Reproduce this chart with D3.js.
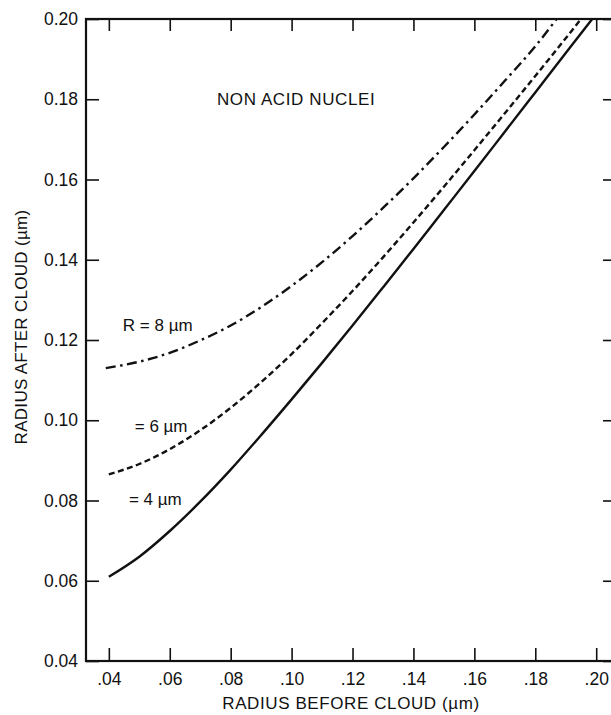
<!DOCTYPE html>
<html>
<head>
<meta charset="utf-8">
<script src="https://cdn.jsdelivr.net/npm/d3@7"></script>
<style>
  html, body { margin: 0; padding: 0; background: #fff; }
  svg { display: block; }
  text { font-family: "Liberation Sans", Arial, Helvetica, sans-serif; fill: #111; }
</style>
</head>
<body>
<svg id="chart" width="611" height="715"></svg>
<script>
// Radius before cloud processing (µm)
const radiusBefore4 = [0.04, 0.05, 0.06, 0.07, 0.08, 0.09, 0.10, 0.11, 0.12, 0.13, 0.14, 0.15, 0.16, 0.17, 0.18, 0.19, 0.1987];
const radiusBefore6 = [0.04, 0.05, 0.06, 0.07, 0.08, 0.09, 0.10, 0.11, 0.12, 0.13, 0.14, 0.15, 0.16, 0.17, 0.18, 0.19, 0.195];
const radiusBefore8 = [0.039, 0.05, 0.06, 0.07, 0.08, 0.09, 0.10, 0.11, 0.12, 0.13, 0.14, 0.15, 0.16, 0.17, 0.18, 0.187];

// Radius after cloud processing (µm) for droplet radius R
const radiusAfter4 = [0.061, 0.0660, 0.0724, 0.0797, 0.0877, 0.0963, 0.1052, 0.1143, 0.1236, 0.1331, 0.1427, 0.1524, 0.1621, 0.1719, 0.1817, 0.1915, 0.20];
const radiusAfter6 = [0.0865, 0.0891, 0.0928, 0.0975, 0.1031, 0.1095, 0.1165, 0.1242, 0.1322, 0.1406, 0.1493, 0.1582, 0.1673, 0.1765, 0.1858, 0.1952, 0.20];
const radiusAfter8 = [0.113, 0.1146, 0.1168, 0.1199, 0.1236, 0.1282, 0.1335, 0.1394, 0.1459, 0.1529, 0.1603, 0.1681, 0.1762, 0.1846, 0.1932, 0.20];

// Tick values
const xTicks = [0.04, 0.06, 0.08, 0.10, 0.12, 0.14, 0.16, 0.18, 0.20];
const yTicks = [0.04, 0.06, 0.08, 0.10, 0.12, 0.14, 0.16, 0.18, 0.20];

// Series labels
const seriesLabels = ["= 4 \u00b5m", "= 6 \u00b5m", "R = 8 \u00b5m"];

const svg = d3.select("#chart");

const x = d3.scaleLinear().domain([0.0325, 0.2065]).range([86, 616]);
const y = d3.scaleLinear().domain([0.04, 0.20]).range([661, 19]);

const fmtY = d3.format(".2f");
const fmtX = d => d3.format(".2f")(d).replace(/^0/, "");

// Clip for curves
svg.append("defs").append("clipPath").attr("id", "plotClip")
  .append("rect")
  .attr("x", x.range()[0]).attr("y", y.range()[1])
  .attr("width", x.range()[1] - x.range()[0])
  .attr("height", y.range()[0] - y.range()[1]);

// Axes with inward ticks
const axisL = svg.append("g").attr("transform", `translate(${x.range()[0]},0)`)
  .call(d3.axisLeft(y).tickValues(yTicks).tickFormat(fmtY).tickSizeInner(-13).tickSizeOuter(0).tickPadding(8));
const axisB = svg.append("g").attr("transform", `translate(0,${y.range()[0]})`)
  .call(d3.axisBottom(x).tickValues(xTicks).tickFormat(fmtX).tickSizeInner(-13).tickSizeOuter(0).tickPadding(12));
const axisT = svg.append("g").attr("transform", `translate(0,${y.range()[1]})`)
  .call(d3.axisTop(x).tickValues(xTicks).tickFormat("").tickSizeInner(-12).tickSizeOuter(0));
const axisR = svg.append("g").attr("transform", `translate(${x.range()[1]},0)`)
  .call(d3.axisRight(y).tickValues(yTicks).tickFormat("").tickSizeInner(-13).tickSizeOuter(0));

[axisL, axisB, axisT, axisR].forEach(g => {
  g.select(".domain").remove();
  g.selectAll(".tick line").attr("stroke", "#111").attr("stroke-width", 1.6);
  g.selectAll(".tick text").style("font-size", "17.5px").attr("fill", "#111");
});

// Frame
svg.append("rect")
  .attr("x", x.range()[0]).attr("y", y.range()[1])
  .attr("width", x.range()[1] - x.range()[0])
  .attr("height", y.range()[0] - y.range()[1])
  .attr("fill", "none").attr("stroke", "#111").attr("stroke-width", 2.2);

// Curves
const line = d3.line().x(d => x(d[0])).y(d => y(d[1])).curve(d3.curveMonotoneX);
const series = [
  { xs: radiusBefore4, ys: radiusAfter4, dash: null },
  { xs: radiusBefore6, ys: radiusAfter6, dash: "6,3.5" },
  { xs: radiusBefore8, ys: radiusAfter8, dash: "10,4.5,2.5,4.5" }
];
const curves = svg.append("g").attr("clip-path", "url(#plotClip)");
series.forEach(s => {
  curves.append("path")
    .datum(s.xs.map((v, i) => [v, s.ys[i]]))
    .attr("d", line)
    .attr("fill", "none")
    .attr("stroke", "#111")
    .attr("stroke-width", 2.4)
    .attr("stroke-dasharray", s.dash);
});

// Curve labels
const labelPos = [[0.0466, 0.0789], [0.0485, 0.0971], [0.0446, 0.1222]];
seriesLabels.forEach((t, i) => {
  svg.append("text")
    .attr("x", x(labelPos[i][0])).attr("y", y(labelPos[i][1]))
    .style("font-size", "17px")
    .text(t);
});

// Annotation
svg.append("text")
  .attr("x", x(0.0755)).attr("y", y(0.1786))
  .style("font-size", "17px").style("letter-spacing", "0.6px")
  .text("NON ACID NUCLEI");

// Axis titles
svg.append("text")
  .attr("x", 351).attr("y", 709)
  .attr("text-anchor", "middle")
  .style("font-size", "17px").style("letter-spacing", "0.6px")
  .text("RADIUS BEFORE CLOUD (\u00b5m)");

svg.append("text")
  .attr("transform", `translate(27,327) rotate(-90)`)
  .attr("text-anchor", "middle")
  .style("font-size", "17px").style("letter-spacing", "0.3px")
  .text("RADIUS AFTER CLOUD (\u00b5m)");
</script>
</body>
</html>
